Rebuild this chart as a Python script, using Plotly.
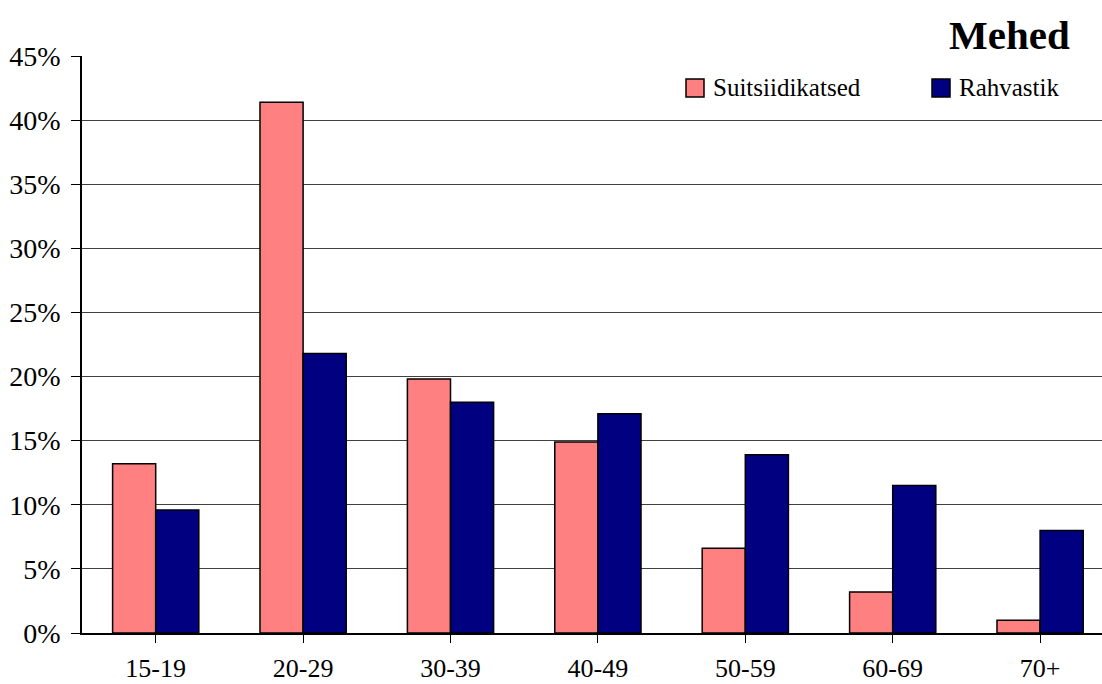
import plotly.graph_objects as go

# Age groups and shares (%) for men
age_groups = ["15-19", "20-29", "30-39", "40-49", "50-59", "60-69", "70+"]
suitsiidikatsed = [13.2, 41.4, 19.8, 14.9, 6.6, 3.2, 1.0]
rahvastik = [9.6, 21.8, 18.0, 17.1, 13.9, 11.5, 8.0]
series_names = ["Suitsiidikatsed", "Rahvastik"]
series_colors = ["#FF8080", "#000080"]
y_ticks = [0, 5, 10, 15, 20, 25, 30, 35, 40, 45]
title_text = "Mehed"

W, H = 1102, 684
ML, MR, MT, MB = 82, 0, 56, 51
PW, PH = W - ML - MR, H - MT - MB
FONT = "Liberation Serif, Times New Roman, serif"


def px_x(x):
    return (x - ML) / PW


def px_y(y):
    return (H - MB - y) / PH


fig = go.Figure()
for name, vals, col in zip(series_names, [suitsiidikatsed, rahvastik], series_colors):
    fig.add_trace(go.Bar(
        x=list(range(len(age_groups))), y=vals, name=name,
        marker=dict(color=col, line=dict(color="black", width=1.5)),
        showlegend=False,
    ))

fig.update_layout(
    width=W, height=H,
    margin=dict(l=ML, r=MR, t=MT, b=MB, pad=0, autoexpand=False),
    paper_bgcolor="white", plot_bgcolor="white",
    barmode="group", bargap=0.415, bargroupgap=0,
    font=dict(family=FONT, size=27, color="black"),
)

fig.update_xaxes(
    range=[-0.5, -0.5 + PW / 147.4],
    tickmode="array", tickvals=list(range(len(age_groups))), ticktext=age_groups,
    tickson="boundaries", ticks="outside", ticklen=8, tickcolor="black", tickwidth=1.2,
    showline=True, linecolor="black", linewidth=1.5,
    showgrid=False, zeroline=False, automargin=False,
    ticklabelstandoff=3,
    tickfont=dict(family=FONT, size=26),
)

fig.update_yaxes(
    range=[0, 45],
    tickmode="array", tickvals=y_ticks, ticktext=[f"{v}%" for v in y_ticks],
    ticks="outside", ticklen=9, tickcolor="black", tickwidth=1.2,
    showline=True, linecolor="black", linewidth=1.5,
    showgrid=True, gridcolor="#404040", gridwidth=1,
    zeroline=False, automargin=False,
    ticklabelstandoff=5,
    tickfont=dict(family=FONT, size=28),
)

# Title
fig.add_annotation(
    text=f"<b>{title_text}</b>", xref="paper", yref="paper",
    x=px_x(1072), y=px_y(35), xanchor="right", yanchor="middle",
    showarrow=False, font=dict(family=FONT, size=41, color="black"),
)

# Legend drawn as swatches + labels
legend_items = [(686, 704, 711), (932, 950, 957)]
for (x0, x1, tx), name, col in zip(legend_items, series_names, series_colors):
    fig.add_shape(
        type="rect", xref="paper", yref="paper",
        x0=px_x(x0), x1=px_x(x1), y0=px_y(97), y1=px_y(79),
        fillcolor=col, line=dict(color="black", width=1.5),
    )
    fig.add_annotation(
        text=name, xref="paper", yref="paper",
        x=px_x(tx), y=px_y(88), xanchor="left", yanchor="middle",
        showarrow=False, font=dict(family=FONT, size=25, color="black"),
    )

fig.write_html("out.html")
